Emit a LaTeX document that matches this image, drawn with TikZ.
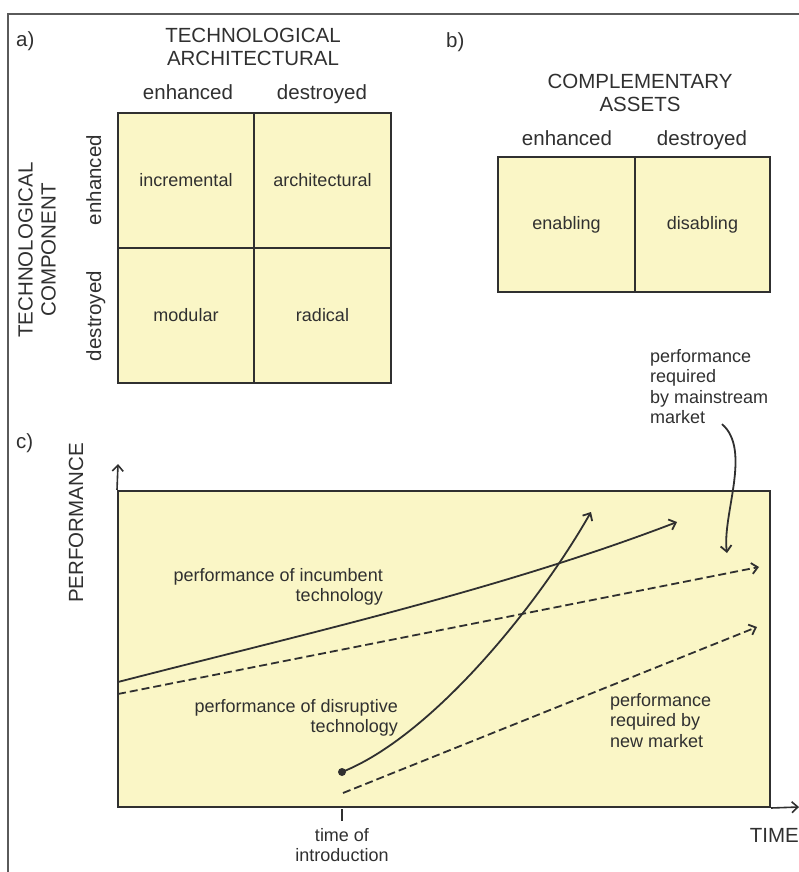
\documentclass[tikz,border=0pt]{standalone}
\usepackage{fontspec}
\setmainfont{Liberation Sans}
\usetikzlibrary{arrows.meta}
\definecolor{cellfill}{RGB}{250,246,198}
\definecolor{ink}{RGB}{48,48,48}
\definecolor{framec}{RGB}{90,90,90}
\begin{document}
\begin{tikzpicture}[x=1pt,y=-1pt,
  small/.style={font=\fontsize{18}{20.5}\selectfont, text=ink, inner sep=0pt},
  big/.style={font=\fontsize{20.5}{23}\selectfont, text=ink, inner sep=0pt},
  cellbox/.style={draw=ink, fill=cellfill, line width=2pt, minimum width=136pt,
    minimum height=135pt, inner sep=0pt, font=\fontsize{18}{21}\selectfont, text=ink},
  arr/.style={-{Straight Barb[length=6pt,width=11pt,line width=1.8pt]}, line width=1.8pt, draw=ink},
  dsh/.style={dash pattern=on 8pt off 4pt}
]
\useasboundingbox (0,0) rectangle (799,872);
% frame
\draw[line width=2pt, framec] (799,14) -- (8,14) -- (8,872);

% ---------- a) ----------
\node[big, anchor=base west] (la) at (16,47) {a)};
\node[big, align=center] (tarch) at (253,46.5) {TECHNOLOGICAL\\ARCHITECTURAL};
\node[big, anchor=base] (ahe) at (188,100) {enhanced};
\node[big, anchor=base] (ahd) at (322,100) {destroyed};
\node[big, rotate=90, align=center] (tcomp) at (37,250) {TECHNOLOGICAL\\COMPONENT};
\node[big, rotate=90, anchor=base] (ave) at (101,180) {enhanced};
\node[big, rotate=90, anchor=base] (avd) at (101,316) {destroyed};
\node[cellbox] (inc) at (186,180.5) {incremental};
\node[cellbox, minimum width=137pt] (arc) at (322.5,180.5) {architectural};
\node[cellbox] (mod) at (186,315.5) {modular};
\node[cellbox, minimum width=137pt] (rad) at (322.5,315.5) {radical};

% ---------- b) ----------
\node[big, anchor=base west] (lb) at (446,48) {b)};
\node[big, align=center] (comp) at (640,93) {COMPLEMENTARY\\ASSETS};
\node[big, anchor=base] (bhe) at (567,145) {enhanced};
\node[big, anchor=base] (bhd) at (702,145) {destroyed};
\node[cellbox, minimum width=137pt] (ena) at (566.5,224.5) {enabling};
\node[cellbox, minimum width=135pt] (dis) at (702.5,224.5) {disabling};

% ---------- c) ----------
\node[big, anchor=base west] (lc) at (16,448) {c)};
\node[big, rotate=90] (perf) at (76,523) {PERFORMANCE};
\node[draw=ink, fill=cellfill, line width=2pt, minimum width=652pt, minimum height=316pt, inner sep=0pt] (plot) at (444,649) {};
\coordinate (o) at (118,807);
\coordinate (ytop) at (118,464);
\coordinate (xend) at (799,807);
\draw[-{Straight Barb[length=6pt,width=11pt,line width=1.6pt]}, line width=1.6pt, ink] (plot.north west) -- (ytop);
\draw[-{Straight Barb[length=6pt,width=11pt,line width=1.6pt]}, line width=1.6pt, ink] (plot.south east) -- (xend);
\node[big, anchor=base east] (time) at (799,842) {TIME};
\coordinate (tk1) at (342,809);
\coordinate (tk2) at (342,821);
\draw[line width=1.6pt, ink] (tk1) -- (tk2);
\node[small, align=center, anchor=north] (toi) at (342,828) {time of\\introduction};

% curves
\coordinate (inc0) at (118,682);
\coordinate (inc1) at (677,522);
\draw[arr] (inc0) .. controls (300,635) and (500,590) .. (inc1);
\coordinate (ms0) at (118,694);
\coordinate (ms1) at (759,567);
\draw[arr, dsh] (ms0) -- (ms1);
\coordinate (nm0) at (343,793);
\coordinate (nm1) at (757,627);
\draw[arr, dsh] (nm0) -- (nm1);
\coordinate (d0) at (342,772);
\coordinate (d1) at (591,512);
\fill[ink] (d0) circle (4pt);
\draw[arr] (d0) .. controls (430,737) and (535,610) .. (d1);

% labels
\node[small, align=right, anchor=north east] (lincu) at (383,568) {performance of incumbent\\technology};
\node[small, align=right, anchor=north east] (ldisr) at (398,699) {performance of disruptive\\technology};
\node[small, align=left, anchor=north west] (lnew) at (610,693) {performance\\required by\\new market};
\node[small, align=left, anchor=north west] (lmain) at (650,349) {performance\\required\\by mainstream\\market};
\coordinate (mm) at (727,553);
\draw[arr] ([xshift=4pt,yshift=0pt]lmain.south west -| 718,428) .. controls (752,450) and (722,515) .. (mm);
\end{tikzpicture}
\end{document}
